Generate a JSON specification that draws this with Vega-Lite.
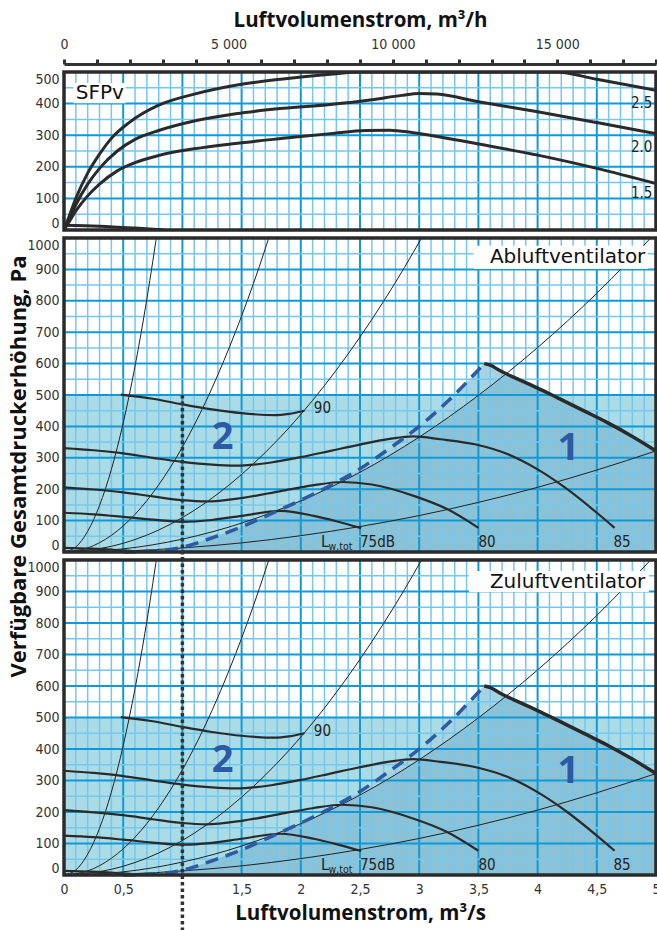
{
  "$schema": "https://vega.github.io/schema/vega-lite/v6.json",
  "padding": {"left": 6, "top": 10, "right": 0, "bottom": 0},
  "background": "white",
  "spacing": 8,
  "bounds": "flush",
  "config": {
    "view": {"stroke": null},
    "axis": {"grid": false, "domain": false, "ticks": false, "tickSize": 0, "labelOverlap": false, "labelBound": false, "labelFont": "'Liberation Sans Narrow', 'DejaVu Sans Condensed', 'Roboto Condensed', Roboto, sans-serif", "labelFontSize": 14, "labelColor": "#333333", "titleFont": "Open Sans", "titleFontWeight": "bold", "titleFontSize": 20.5, "titleColor": "#111111"},
    "text": {"font": "'Liberation Sans Narrow', 'DejaVu Sans Condensed', 'Roboto Condensed', Roboto, sans-serif", "color": "#222222"}
  },
  "datasets": {
    "one": [{}],
    "gx": [{"x":0.1,"m":0},{"x":0.2,"m":0},{"x":0.3,"m":0},{"x":0.4,"m":0},{"x":0.5,"m":1},{"x":0.6,"m":0},{"x":0.7,"m":0},{"x":0.8,"m":0},{"x":0.9,"m":0},{"x":1.0,"m":1},{"x":1.1,"m":0},{"x":1.2,"m":0},{"x":1.3,"m":0},{"x":1.4,"m":0},{"x":1.5,"m":1},{"x":1.6,"m":0},{"x":1.7,"m":0},{"x":1.8,"m":0},{"x":1.9,"m":0},{"x":2.0,"m":1},{"x":2.1,"m":0},{"x":2.2,"m":0},{"x":2.3,"m":0},{"x":2.4,"m":0},{"x":2.5,"m":1},{"x":2.6,"m":0},{"x":2.7,"m":0},{"x":2.8,"m":0},{"x":2.9,"m":0},{"x":3.0,"m":1},{"x":3.1,"m":0},{"x":3.2,"m":0},{"x":3.3,"m":0},{"x":3.4,"m":0},{"x":3.5,"m":1},{"x":3.6,"m":0},{"x":3.7,"m":0},{"x":3.8,"m":0},{"x":3.9,"m":0},{"x":4.0,"m":1},{"x":4.1,"m":0},{"x":4.2,"m":0},{"x":4.3,"m":0},{"x":4.4,"m":0},{"x":4.5,"m":1},{"x":4.6,"m":0},{"x":4.7,"m":0},{"x":4.8,"m":0},{"x":4.9,"m":0}],
    "gy1": [{"y":50,"m":0},{"y":100,"m":1},{"y":150,"m":0},{"y":200,"m":1},{"y":250,"m":0},{"y":300,"m":1},{"y":350,"m":0},{"y":400,"m":1},{"y":450,"m":0},{"y":500,"m":1},{"y":550,"m":0},{"y":600,"m":1},{"y":650,"m":0},{"y":700,"m":1},{"y":750,"m":0},{"y":800,"m":1},{"y":850,"m":0},{"y":900,"m":1},{"y":950,"m":0}],
    "gy0": [{"y":50,"m":0},{"y":100,"m":1},{"y":150,"m":0},{"y":200,"m":1},{"y":250,"m":0},{"y":300,"m":1},{"y":350,"m":0},{"y":400,"m":1},{"y":450,"m":0}],
    "sfp": [
      {"s":"2.5","x":0,"y":0},{"s":"2.5","x":0.05,"y":50},{"s":"2.5","x":0.1,"y":100},{"s":"2.5","x":0.2,"y":180},{"s":"2.5","x":0.3,"y":240},{"s":"2.5","x":0.4,"y":290},{"s":"2.5","x":0.55,"y":340},{"s":"2.5","x":0.8,"y":395},{"s":"2.5","x":1.1,"y":430},{"s":"2.5","x":1.45,"y":458},{"s":"2.5","x":1.85,"y":478},{"s":"2.5","x":2.25,"y":493},{"s":"2.5","x":2.5,"y":500},{"s":"2.5","x":4.15,"y":500},{"s":"2.5","x":4.5,"y":477},{"s":"2.5","x":5.0,"y":442},
      {"s":"2.0","x":0,"y":0},{"s":"2.0","x":0.05,"y":40},{"s":"2.0","x":0.1,"y":80},{"s":"2.0","x":0.2,"y":145},{"s":"2.0","x":0.3,"y":195},{"s":"2.0","x":0.45,"y":250},{"s":"2.0","x":0.6,"y":287},{"s":"2.0","x":0.8,"y":315},{"s":"2.0","x":1.1,"y":345},{"s":"2.0","x":1.45,"y":368},{"s":"2.0","x":1.85,"y":385},{"s":"2.0","x":2.25,"y":397},{"s":"2.0","x":2.6,"y":412},{"s":"2.0","x":2.85,"y":426},{"s":"2.0","x":3.0,"y":432},{"s":"2.0","x":3.15,"y":430},{"s":"2.0","x":3.5,"y":406},{"s":"2.0","x":4.0,"y":374},{"s":"2.0","x":4.5,"y":340},{"s":"2.0","x":5.0,"y":305},
      {"s":"1.5","x":0,"y":0},{"s":"1.5","x":0.05,"y":30},{"s":"1.5","x":0.1,"y":60},{"s":"1.5","x":0.2,"y":108},{"s":"1.5","x":0.3,"y":145},{"s":"1.5","x":0.45,"y":187},{"s":"1.5","x":0.6,"y":213},{"s":"1.5","x":0.8,"y":236},{"s":"1.5","x":1.1,"y":257},{"s":"1.5","x":1.45,"y":274},{"s":"1.5","x":1.85,"y":290},{"s":"1.5","x":2.25,"y":305},{"s":"1.5","x":2.55,"y":315},{"s":"1.5","x":2.75,"y":316},{"s":"1.5","x":2.95,"y":308},{"s":"1.5","x":3.5,"y":272},{"s":"1.5","x":4.0,"y":237},{"s":"1.5","x":4.5,"y":195},{"s":"1.5","x":5.0,"y":147},
      {"s":"low","x":0,"y":15},{"s":"low","x":0.3,"y":12},{"s":"low","x":0.6,"y":6},{"s":"low","x":0.85,"y":0}
    ],
    "sfplab": [{"t":"2.5","x":4.97,"y":401},{"t":"2.0","x":4.97,"y":263},{"t":"1.5","x":4.97,"y":117}],
    "sys": [
      {"s":"A","x":0,"y":0},{"s":"A","x":0.1,"y":16},{"s":"A","x":0.2,"y":66},{"s":"A","x":0.3,"y":148},{"s":"A","x":0.4,"y":263},{"s":"A","x":0.5,"y":411},{"s":"A","x":0.6,"y":592},{"s":"A","x":0.7,"y":806},{"s":"A","x":0.8,"y":1052},
      {"s":"B","x":0,"y":0},{"s":"B","x":0.2,"y":13},{"s":"B","x":0.4,"y":53},{"s":"B","x":0.6,"y":120},{"s":"B","x":0.8,"y":214},{"s":"B","x":1.0,"y":334},{"s":"B","x":1.2,"y":481},{"s":"B","x":1.4,"y":655},{"s":"B","x":1.6,"y":855},{"s":"B","x":1.8,"y":1082},
      {"s":"C","x":0,"y":0},{"s":"C","x":0.4,"y":18},{"s":"C","x":0.8,"y":70},{"s":"C","x":1.2,"y":158},{"s":"C","x":1.6,"y":281},{"s":"C","x":2.0,"y":438},{"s":"C","x":2.4,"y":631},{"s":"C","x":2.8,"y":859},{"s":"C","x":3.1,"y":1053},
      {"s":"D","x":0,"y":0},{"s":"D","x":0.5,"y":10},{"s":"D","x":1.0,"y":41},{"s":"D","x":1.5,"y":92},{"s":"D","x":2.0,"y":163},{"s":"D","x":2.5,"y":254},{"s":"D","x":3.0,"y":366},{"s":"D","x":3.5,"y":499},{"s":"D","x":4.0,"y":651},{"s":"D","x":4.5,"y":824},{"s":"D","x":5.0,"y":1018},
      {"s":"E","x":0,"y":0},{"s":"E","x":0.5,"y":3},{"s":"E","x":1.0,"y":13},{"s":"E","x":1.5,"y":29},{"s":"E","x":2.0,"y":52},{"s":"E","x":2.5,"y":81},{"s":"E","x":3.0,"y":116},{"s":"E","x":3.5,"y":158},{"s":"E","x":4.0,"y":206},{"s":"E","x":4.5,"y":261},{"s":"E","x":5.0,"y":322}
    ],
    "fan": [
      {"s":"0","x":0,"y":13},{"s":"0","x":0.2,"y":11},{"s":"0","x":0.4,"y":8},{"s":"0","x":0.6,"y":2},{"s":"0","x":0.7,"y":0},
      {"s":"75","x":0,"y":125},{"s":"75","x":0.25,"y":120},{"s":"75","x":0.5,"y":112},{"s":"75","x":0.75,"y":103},{"s":"75","x":1.0,"y":96},{"s":"75","x":1.25,"y":102},{"s":"75","x":1.5,"y":115},{"s":"75","x":1.83,"y":131},{"s":"75","x":2.11,"y":115},{"s":"75","x":2.3,"y":98},{"s":"75","x":2.51,"y":76},
      {"s":"80","x":0,"y":206},{"s":"80","x":0.25,"y":199},{"s":"80","x":0.5,"y":190},{"s":"80","x":0.75,"y":177},{"s":"80","x":1.0,"y":165},{"s":"80","x":1.2,"y":161},{"s":"80","x":1.5,"y":172},{"s":"80","x":1.83,"y":194},{"s":"80","x":2.1,"y":212},{"s":"80","x":2.35,"y":223},{"s":"80","x":2.6,"y":215},{"s":"80","x":2.96,"y":178},{"s":"80","x":3.24,"y":136},{"s":"80","x":3.5,"y":77},
      {"s":"85","x":0,"y":331},{"s":"85","x":0.25,"y":324},{"s":"85","x":0.5,"y":314},{"s":"85","x":0.75,"y":300},{"s":"85","x":1.0,"y":287},{"s":"85","x":1.25,"y":278},{"s":"85","x":1.45,"y":275},{"s":"85","x":1.75,"y":285},{"s":"85","x":2.0,"y":302},{"s":"85","x":2.25,"y":322},{"s":"85","x":2.5,"y":342},{"s":"85","x":2.75,"y":360},{"s":"85","x":2.95,"y":368},{"s":"85","x":3.18,"y":359},{"s":"85","x":3.47,"y":343},{"s":"85","x":3.75,"y":311},{"s":"85","x":4.0,"y":263},{"s":"85","x":4.25,"y":200},{"s":"85","x":4.5,"y":125},{"s":"85","x":4.65,"y":77},
      {"s":"90","x":0.48,"y":501},{"s":"90","x":0.75,"y":488},{"s":"90","x":1.0,"y":470},{"s":"90","x":1.25,"y":454},{"s":"90","x":1.5,"y":442},{"s":"90","x":1.78,"y":436},{"s":"90","x":1.9,"y":440},{"s":"90","x":2.03,"y":450}
    ],
    "dash": [{"x":0.5,"y":0},{"x":0.75,"y":3},{"x":1.0,"y":15},{"x":1.25,"y":45},{"x":1.5,"y":80},{"x":1.75,"y":122},{"x":2.0,"y":165},{"x":2.25,"y":212},{"x":2.5,"y":265},{"x":2.75,"y":330},{"x":3.0,"y":400},{"x":3.25,"y":483},{"x":3.5,"y":580},{"x":3.55,"y":600}],
    "bound": [{"x":3.55,"y":600},{"x":3.6,"y":595},{"x":3.68,"y":578},{"x":3.8,"y":556},{"x":4.0,"y":522},{"x":4.17,"y":491},{"x":4.4,"y":448},{"x":4.59,"y":412},{"x":4.8,"y":368},{"x":5.0,"y":322}],
    "area1": [{"x":0.5,"y":0},{"x":0.75,"y":3},{"x":1.0,"y":15},{"x":1.25,"y":45},{"x":1.5,"y":80},{"x":1.75,"y":122},{"x":2.0,"y":165},{"x":2.25,"y":212},{"x":2.5,"y":265},{"x":2.75,"y":330},{"x":3.0,"y":400},{"x":3.25,"y":483},{"x":3.5,"y":580},{"x":3.55,"y":600},{"x":3.6,"y":595},{"x":3.68,"y":578},{"x":3.8,"y":556},{"x":4.0,"y":522},{"x":4.17,"y":491},{"x":4.4,"y":448},{"x":4.59,"y":412},{"x":4.8,"y":368},{"x":5.0,"y":322}],
    "area2": [{"x":0.5,"y":0},{"x":0.75,"y":3},{"x":1.0,"y":15},{"x":1.25,"y":45},{"x":1.5,"y":80},{"x":1.75,"y":122},{"x":2.0,"y":163},{"x":2.2,"y":197},{"x":2.5,"y":254},{"x":2.75,"y":308},{"x":3.0,"y":366},{"x":3.25,"y":430},{"x":3.5,"y":499},{"x":3.72,"y":563},{"x":3.8,"y":556},{"x":4.0,"y":522},{"x":4.17,"y":491},{"x":4.4,"y":448},{"x":4.59,"y":412},{"x":4.8,"y":368},{"x":5.0,"y":322}],
    "lab": [{"t":"90","x":2.11,"y":458},{"t":"80","x":3.5,"y":33},{"t":"85","x":4.64,"y":33},{"t":"75dB","x":2.5,"y":33}],
    "num": [{"t":"2","x":1.34,"y":362},{"t":"1","x":4.26,"y":328}]
  },
  "vconcat": [
    {
      "width": 592, "height": 158,
      "layer": [
        {"data": {"name": "gx"}, "mark": {"type": "rule"},
         "encoding": {
           "x": {"field": "x", "type": "quantitative", "scale": {"domain": [0, 5], "nice": false, "zero": false},
                 "axis": {"orient": "top", "title": "Luftvolumenstrom, m³/h", "values": [0,0.2777778,0.5555556,0.8333333,1.1111111,1.3888889,1.6666667,1.9444444,2.2222222,2.5,2.7777778,3.0555556,3.3333333,3.6111111,3.8888889,4.1666667,4.4444444,4.7222222,5], "tickCount": 1000,
                          "labelExpr": "round(datum.value*3600) % 5000 == 0 ? replace(format(round(datum.value*3600), ','), ',', ' ') : ''",
                          "labelFlush": false, "labelOverlap": false, "ticks": true, "tickSize": 5, "tickWidth": 3, "tickColor": "#333333", "domain": true, "domainWidth": 3, "domainColor": "#333333", "offset": 8, "labelPadding": 8, "titlePadding": 7}},
           "color": {"condition": {"test": "datum.m == 1", "value": "#0e9ad8"}, "value": "#74c7ee"},
           "strokeWidth": {"condition": {"test": "datum.m == 1", "value": 2}, "value": 1.5}}},
        {"data": {"name": "gy0"}, "mark": {"type": "rule"},
         "encoding": {
           "y": {"field": "y", "type": "quantitative", "scale": {"domain": [0, 500], "nice": false, "zero": false},
                 "axis": {"title": null, "values": [0,100,200,300,400,500], "tickCount": 1000, "format": "d", "labelOverlap": false, "labelFlush": true, "labelPadding": 5}},
           "color": {"condition": {"test": "datum.m == 1", "value": "#0e9ad8"}, "value": "#74c7ee"},
           "strokeWidth": {"condition": {"test": "datum.m == 1", "value": 2}, "value": 1.5}}},
        {"data": {"name": "sfp"}, "mark": {"type": "line", "interpolate": "monotone", "color": "#2a2a2a", "strokeWidth": 3, "clip": true},
         "encoding": {
           "x": {"field": "x", "type": "quantitative"},
           "y": {"field": "y", "type": "quantitative"},
           "detail": {"field": "s"}}},
        {"data": {"name": "sfplab"}, "mark": {"type": "text", "align": "right", "baseline": "middle", "fontSize": 15},
         "encoding": {
           "x": {"field": "x", "type": "quantitative"},
           "y": {"field": "y", "type": "quantitative"},
           "text": {"field": "t"}}},
        {"data": {"name": "one"}, "mark": {"type": "rect", "color": "white"},
         "encoding": {"x": {"datum": 0.08, "type": "quantitative"}, "x2": {"datum": 0.52}, "y": {"datum": 401, "type": "quantitative"}, "y2": {"datum": 465}}},
        {"data": {"name": "one"}, "mark": {"type": "text", "text": "SFPv", "font": "DejaVu Sans", "fontSize": 20, "align": "left", "baseline": "middle", "color": "#111111"},
         "encoding": {"x": {"datum": 0.1, "type": "quantitative"}, "y": {"datum": 433, "type": "quantitative"}}},
        {"data": {"name": "one"}, "mark": {"type": "rect", "fillOpacity": 0, "stroke": "#2b2b2b", "strokeWidth": 3.5},
         "encoding": {"x": {"datum": 0, "type": "quantitative"}, "x2": {"datum": 5}, "y": {"datum": 0, "type": "quantitative"}, "y2": {"datum": 500}}}
      ]
    },
    {
      "width": 592, "height": 314,
      "layer": [
        {"data": {"name": "one"}, "mark": {"type": "rect", "color": "#abdce5"},
         "encoding": {"x": {"datum": 0, "type": "quantitative", "scale": {"domain": [0, 5], "nice": false, "zero": false}, "axis": null}, "x2": {"datum": 5}, "y": {"datum": 0, "type": "quantitative", "scale": {"domain": [0, 1000], "nice": false, "zero": false}}, "y2": {"datum": 500}}},
        {"data": {"name": "area1"}, "mark": {"type": "area", "color": "#a6d3e2", "interpolate": "monotone"},
         "encoding": {"x": {"field": "x", "type": "quantitative", "axis": null}, "y": {"field": "y", "type": "quantitative"}, "y2": {"datum": 0}}},
        {"data": {"name": "area2"}, "mark": {"type": "area", "color": "#8cc2d5", "interpolate": "linear"},
         "encoding": {"x": {"field": "x", "type": "quantitative", "axis": null}, "y": {"field": "y", "type": "quantitative"}, "y2": {"datum": 0}}},
        {"data": {"name": "gx"}, "mark": {"type": "rule"},
         "encoding": {
           "x": {"field": "x", "type": "quantitative", "axis": null},
           "color": {"condition": {"test": "datum.m == 1", "value": "#0e9ad8"}, "value": "#74c7ee"},
           "strokeWidth": {"condition": {"test": "datum.m == 1", "value": 2}, "value": 1.5}}},
        {"data": {"name": "gy1"}, "mark": {"type": "rule"},
         "encoding": {
           "y": {"field": "y", "type": "quantitative",
                 "axis": {"title": "Verfügbare Gesamtdruckerhöhung, Pa", "titleFontSize": 22, "titleX": -34, "titleY": 228, "titleAngle": 270, "titleAlign": "center", "titleBaseline": "bottom", "values": [0,100,200,300,400,500,600,700,800,900,1000], "tickCount": 1000, "format": "d", "labelOverlap": false, "labelFlush": true, "labelPadding": 5}},
           "color": {"condition": {"test": "datum.m == 1", "value": "#0e9ad8"}, "value": "#74c7ee"},
           "strokeWidth": {"condition": {"test": "datum.m == 1", "value": 2}, "value": 1.5}}},
        {"data": {"name": "sys"}, "mark": {"type": "line", "interpolate": "monotone", "color": "#222222", "strokeWidth": 1, "clip": true},
         "encoding": {"x": {"field": "x", "type": "quantitative", "axis": null}, "y": {"field": "y", "type": "quantitative"}, "detail": {"field": "s"}}},
        {"data": {"name": "fan"}, "mark": {"type": "line", "interpolate": "monotone", "color": "#2a2a2a", "strokeWidth": 2.2, "clip": true},
         "encoding": {"x": {"field": "x", "type": "quantitative", "axis": null}, "y": {"field": "y", "type": "quantitative"}, "detail": {"field": "s"}}},
        {"data": {"name": "dash"}, "mark": {"type": "line", "interpolate": "monotone", "color": "#2c5aa3", "strokeWidth": 3.5, "strokeDash": [13, 8]},
         "encoding": {"x": {"field": "x", "type": "quantitative", "axis": null}, "y": {"field": "y", "type": "quantitative"}}},
        {"data": {"name": "bound"}, "mark": {"type": "line", "interpolate": "monotone", "color": "#2a2a2a", "strokeWidth": 3.5},
         "encoding": {"x": {"field": "x", "type": "quantitative", "axis": null}, "y": {"field": "y", "type": "quantitative"}}},
        {"data": {"name": "lab"}, "mark": {"type": "text", "align": "left", "baseline": "middle", "fontSize": 15},
         "encoding": {"x": {"field": "x", "type": "quantitative", "axis": null}, "y": {"field": "y", "type": "quantitative"}, "text": {"field": "t"}}},
        {"data": {"name": "one"}, "mark": {"type": "text", "text": "L", "fontSize": 16, "align": "left", "baseline": "middle"},
         "encoding": {"x": {"datum": 2.17, "type": "quantitative", "axis": null}, "y": {"datum": 33, "type": "quantitative"}}},
        {"data": {"name": "one"}, "mark": {"type": "text", "text": "w,tot", "fontSize": 10.5, "align": "left", "baseline": "middle"},
         "encoding": {"x": {"datum": 2.235, "type": "quantitative", "axis": null}, "y": {"datum": 16, "type": "quantitative"}}},
        {"data": {"name": "num"}, "mark": {"type": "text", "align": "center", "baseline": "middle", "fontSize": 38, "font": "Open Sans", "fontWeight": "bold", "color": "#2d5aa5"},
         "encoding": {"x": {"field": "x", "type": "quantitative", "axis": null}, "y": {"field": "y", "type": "quantitative"}, "text": {"field": "t"}}},
        {"data": {"name": "one"}, "mark": {"type": "rect", "color": "white"},
         "encoding": {"x": {"datum": 3.46, "type": "quantitative", "axis": null}, "x2": {"datum": 4.93}, "y": {"datum": 901, "type": "quantitative"}, "y2": {"datum": 975}}},
        {"data": {"name": "one"}, "mark": {"type": "text", "text": "Abluftventilator", "font": "DejaVu Sans", "fontSize": 20, "align": "right", "baseline": "middle", "color": "#111111"},
         "encoding": {"x": {"datum": 4.91, "type": "quantitative", "axis": null}, "y": {"datum": 940, "type": "quantitative"}}},
        {"data": {"name": "one"}, "mark": {"type": "rule", "color": "#333333", "strokeWidth": 3.5, "strokeDash": [3.5, 3]},
         "encoding": {"x": {"datum": 1, "type": "quantitative", "axis": null}, "y": {"datum": 500, "type": "quantitative"}, "y2": {"datum": -30}}},
        {"data": {"name": "one"}, "mark": {"type": "rect", "fillOpacity": 0, "stroke": "#2b2b2b", "strokeWidth": 3.5},
         "encoding": {"x": {"datum": 0, "type": "quantitative", "axis": null}, "x2": {"datum": 5}, "y": {"datum": 0, "type": "quantitative"}, "y2": {"datum": 1000}}}
      ]
    },
    {
      "width": 592, "height": 315,
      "layer": [
        {"data": {"name": "one"}, "mark": {"type": "rect", "color": "#abdce5"},
         "encoding": {"x": {"datum": 0, "type": "quantitative", "scale": {"domain": [0, 5], "nice": false, "zero": false}}, "x2": {"datum": 5}, "y": {"datum": 0, "type": "quantitative", "scale": {"domain": [0, 1000], "nice": false, "zero": false}}, "y2": {"datum": 500}}},
        {"data": {"name": "area1"}, "mark": {"type": "area", "color": "#a6d3e2", "interpolate": "monotone"},
         "encoding": {"x": {"field": "x", "type": "quantitative"}, "y": {"field": "y", "type": "quantitative"}, "y2": {"datum": 0}}},
        {"data": {"name": "area2"}, "mark": {"type": "area", "color": "#8cc2d5", "interpolate": "linear"},
         "encoding": {"x": {"field": "x", "type": "quantitative"}, "y": {"field": "y", "type": "quantitative"}, "y2": {"datum": 0}}},
        {"data": {"name": "gx"}, "mark": {"type": "rule"},
         "encoding": {
           "x": {"field": "x", "type": "quantitative",
                 "axis": {"orient": "bottom", "title": "Luftvolumenstrom, m³/s", "values": [0,0.5,1.5,2,2.5,3,3.5,4,4.5,5], "tickCount": 1000, "labelExpr": "replace(format(datum.value, '~g'), '.', ',')", "labelFlush": false, "labelOverlap": false, "labelPadding": 7, "titlePadding": 7}},
           "color": {"condition": {"test": "datum.m == 1", "value": "#0e9ad8"}, "value": "#74c7ee"},
           "strokeWidth": {"condition": {"test": "datum.m == 1", "value": 2}, "value": 1.5}}},
        {"data": {"name": "gy1"}, "mark": {"type": "rule"},
         "encoding": {
           "y": {"field": "y", "type": "quantitative",
                 "axis": {"title": null, "values": [0,100,200,300,400,500,600,700,800,900,1000], "tickCount": 1000, "format": "d", "labelOverlap": false, "labelFlush": true, "labelPadding": 5}},
           "color": {"condition": {"test": "datum.m == 1", "value": "#0e9ad8"}, "value": "#74c7ee"},
           "strokeWidth": {"condition": {"test": "datum.m == 1", "value": 2}, "value": 1.5}}},
        {"data": {"name": "sys"}, "mark": {"type": "line", "interpolate": "monotone", "color": "#222222", "strokeWidth": 1, "clip": true},
         "encoding": {"x": {"field": "x", "type": "quantitative"}, "y": {"field": "y", "type": "quantitative"}, "detail": {"field": "s"}}},
        {"data": {"name": "fan"}, "mark": {"type": "line", "interpolate": "monotone", "color": "#2a2a2a", "strokeWidth": 2.2, "clip": true},
         "encoding": {"x": {"field": "x", "type": "quantitative"}, "y": {"field": "y", "type": "quantitative"}, "detail": {"field": "s"}}},
        {"data": {"name": "dash"}, "mark": {"type": "line", "interpolate": "monotone", "color": "#2c5aa3", "strokeWidth": 3.5, "strokeDash": [13, 8]},
         "encoding": {"x": {"field": "x", "type": "quantitative"}, "y": {"field": "y", "type": "quantitative"}}},
        {"data": {"name": "bound"}, "mark": {"type": "line", "interpolate": "monotone", "color": "#2a2a2a", "strokeWidth": 3.5},
         "encoding": {"x": {"field": "x", "type": "quantitative"}, "y": {"field": "y", "type": "quantitative"}}},
        {"data": {"name": "lab"}, "mark": {"type": "text", "align": "left", "baseline": "middle", "fontSize": 15},
         "encoding": {"x": {"field": "x", "type": "quantitative"}, "y": {"field": "y", "type": "quantitative"}, "text": {"field": "t"}}},
        {"data": {"name": "one"}, "mark": {"type": "text", "text": "L", "fontSize": 16, "align": "left", "baseline": "middle"},
         "encoding": {"x": {"datum": 2.17, "type": "quantitative"}, "y": {"datum": 33, "type": "quantitative"}}},
        {"data": {"name": "one"}, "mark": {"type": "text", "text": "w,tot", "fontSize": 10.5, "align": "left", "baseline": "middle"},
         "encoding": {"x": {"datum": 2.235, "type": "quantitative"}, "y": {"datum": 16, "type": "quantitative"}}},
        {"data": {"name": "num"}, "mark": {"type": "text", "align": "center", "baseline": "middle", "fontSize": 38, "font": "Open Sans", "fontWeight": "bold", "color": "#2d5aa5"},
         "encoding": {"x": {"field": "x", "type": "quantitative"}, "y": {"field": "y", "type": "quantitative"}, "text": {"field": "t"}}},
        {"data": {"name": "one"}, "mark": {"type": "rect", "color": "white"},
         "encoding": {"x": {"datum": 3.42, "type": "quantitative"}, "x2": {"datum": 4.94}, "y": {"datum": 898, "type": "quantitative"}, "y2": {"datum": 965}}},
        {"data": {"name": "one"}, "mark": {"type": "text", "text": "Zuluftventilator", "font": "DejaVu Sans", "fontSize": 20, "align": "right", "baseline": "middle", "color": "#111111"},
         "encoding": {"x": {"datum": 4.91, "type": "quantitative"}, "y": {"datum": 931, "type": "quantitative"}}},
        {"data": {"name": "one"}, "mark": {"type": "rule", "color": "#333333", "strokeWidth": 3.5, "strokeDash": [3.5, 3]},
         "encoding": {"x": {"datum": 1, "type": "quantitative"}, "y": {"datum": 1030, "type": "quantitative"}, "y2": {"datum": -178}}},
        {"data": {"name": "one"}, "mark": {"type": "rect", "fillOpacity": 0, "stroke": "#2b2b2b", "strokeWidth": 3.5},
         "encoding": {"x": {"datum": 0, "type": "quantitative"}, "x2": {"datum": 5}, "y": {"datum": 0, "type": "quantitative"}, "y2": {"datum": 1000}}}
      ]
    }
  ]
}
